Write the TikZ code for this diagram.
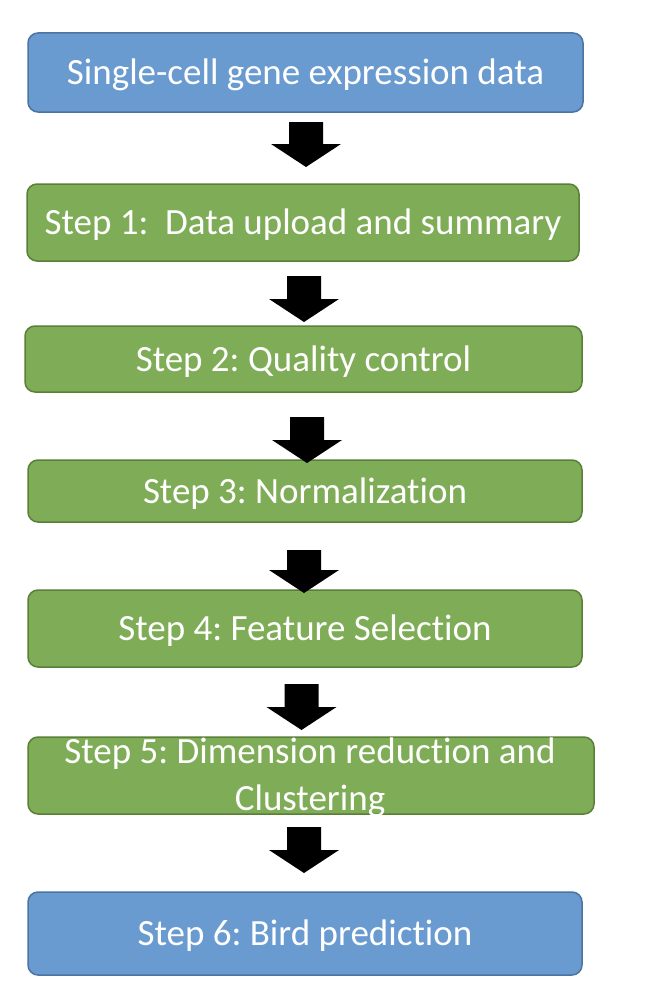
\documentclass[tikz,border=0pt]{standalone}
\usepackage{fontspec}
\setmainfont{Carlito}[Ligatures=NoCommon]
\usetikzlibrary{calc}
\definecolor{bluefill}{HTML}{6A9BD0}
\definecolor{blueline}{HTML}{4A74A2}
\definecolor{greenfill}{HTML}{7FAC56}
\definecolor{greenline}{HTML}{5A8038}
\newcommand\flowarrow[2]{\fill[arrowfill] let \p1=(#1), \p2=(#2) in
  (\x1-17pt,\y1) -- (\x1+17pt,\y1) -- (\x1+17pt,\y2+23pt) -- (\x1+35pt,\y2+23pt)
  -- (\x2,\y2) -- (\x1-35pt,\y2+23pt) -- (\x1-17pt,\y2+23pt) -- cycle;}
\tikzset{
  box/.style={rounded corners=10pt, line width=1.5pt, inner sep=0pt, text=white,
    font=\fontsize{37}{47}\selectfont, text height=24pt, text depth=0pt},
  bluebox/.style={box, fill=bluefill, draw=blueline},
  greenbox/.style={box, fill=greenfill, draw=greenline},
  boxtext/.style={text=white, inner sep=0pt, font=\fontsize{37}{47}\selectfont, align=center},
  arrowfill/.style={fill=black},
}
\begin{document}
\frenchspacing
\begin{tikzpicture}[x=1pt,y=-1pt]
\fill[white] (0,0) rectangle (658,998);
\useasboundingbox (0,0) rectangle (658,998);
\node[bluebox, minimum width=555pt, minimum height=79pt] (b0) at (305.5,72.5) {Single-cell gene expression data};
\node[greenbox, minimum width=552pt, minimum height=77pt] (b1) at (303,222.5) {Step 1:~ Data upload and summary};
\node[greenbox, minimum width=557pt, minimum height=66pt] (b2) at (303.5,359) {Step 2: Quality control};
\node[greenbox, minimum width=554pt, minimum height=62pt] (b3) at (305,491) {Step 3: Normalization};
\node[greenbox, minimum width=554pt, minimum height=77pt] (b4) at (305,628.5) {Step 4: Feature Selection};
\node[greenbox, minimum width=566pt, minimum height=77pt] (b5) at (311,775.5) {};
\node[boxtext] (b5t) at (310,777.5) {Step 5: Dimension reduction and\\Clustering};
\node[bluebox, minimum width=554pt, minimum height=83pt] (b6) at (305,933.5) {Step 6: Bird prediction};
\coordinate (a1s) at (306,122); \coordinate (a1e) at (306,167);
\coordinate (a2s) at (304,276); \coordinate (a2e) at (304,322);
\coordinate (a3s) at (307,417); \coordinate (a3e) at (307,463);
\coordinate (a4s) at (304,550); \coordinate (a4e) at (304,593);
\coordinate (a5s) at (301.5,684); \coordinate (a5e) at (301.5,730);
\coordinate (a6s) at (304,827); \coordinate (a6e) at (304,873);
\flowarrow{a1s}{a1e}
\flowarrow{a2s}{a2e}
\flowarrow{a3s}{a3e}
\flowarrow{a4s}{a4e}
\flowarrow{a5s}{a5e}
\flowarrow{a6s}{a6e}
\end{tikzpicture}
\end{document}
